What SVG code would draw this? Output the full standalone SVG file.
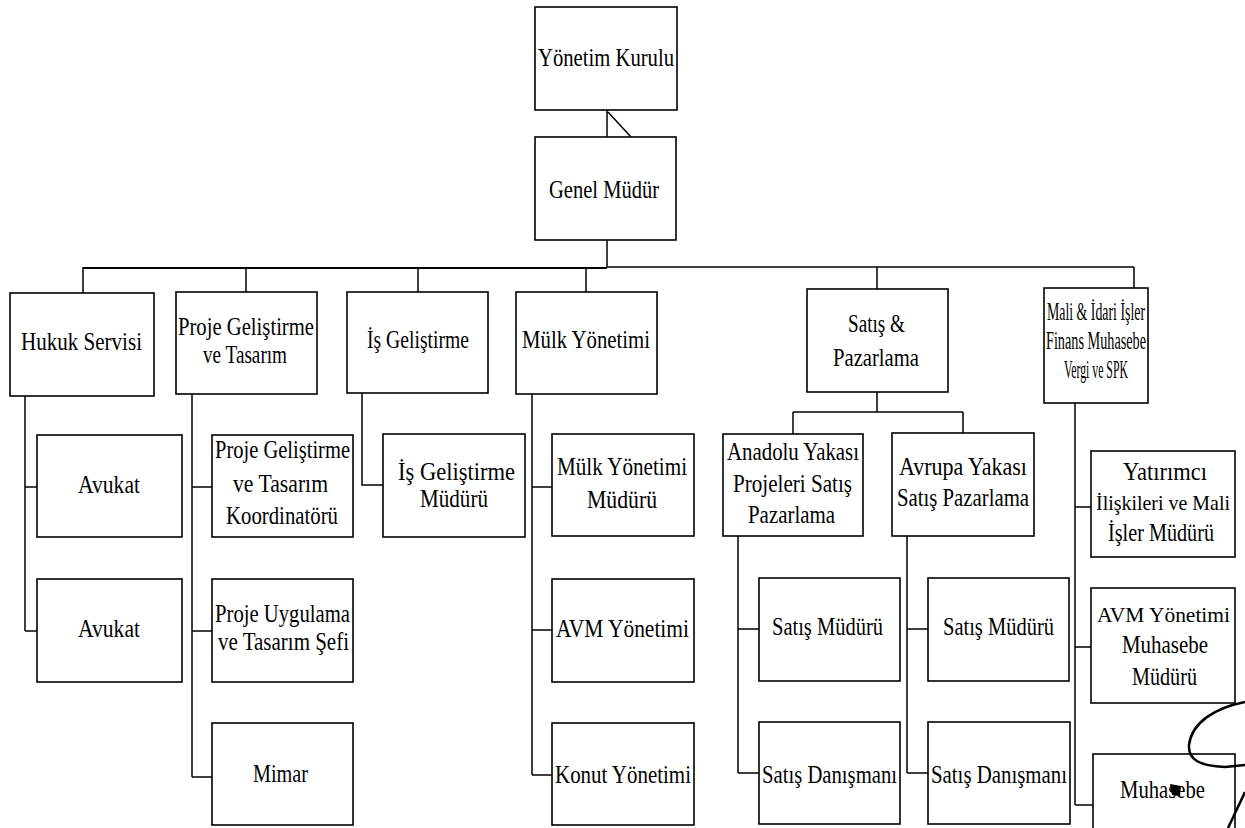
<svg xmlns="http://www.w3.org/2000/svg" width="1245" height="828" viewBox="0 0 1245 828">
<style>
.box{fill:#fff;stroke:#000;stroke-width:1.6}
.t{font-family:"Liberation Serif","Times New Roman",serif;font-size:25px;fill:#000}
.s{font-size:21px}
.c{stroke:#000;stroke-width:1.5;fill:none}
.bus{stroke:#000;stroke-width:2.2;fill:none}
</style>
<rect width="1245" height="828" fill="#fff"/>
<g id="connectors">
<path class="c" d="M607,110V137 M608,112L631,137 M607,240V267"/>
<path class="bus" d="M83,268H607"/>
<path class="c" d="M607,267H1134"/>
<path class="c" d="M83,267V293 M246,267V292 M418,267V292 M586,267V292 M877,267V289 M1134,267V288"/>
<path class="c" d="M25,396V631 M25,487H37 M25,631H37"/>
<path class="c" d="M192,394V777 M192,487H212 M192,631H212 M192,777H212"/>
<path class="c" d="M362,393V485H383"/>
<path class="c" d="M532,394V775 M532,487H552 M532,630H552 M532,775H552"/>
<path class="c" d="M877,392V412 M793,412H963 M793,412V434 M963,412V433"/>
<path class="c" d="M738,536V773 M738,629H759 M738,773H759"/>
<path class="c" d="M907,536V773 M907,629H928 M907,773H928"/>
<path class="c" d="M1075,403V805 M1075,507H1091 M1075,647H1091 M1075,805H1093"/>
</g>
<g id="n-yonetim"><rect class="box" x="535" y="7" width="142" height="103"/><text class="t" x="538" y="66" textLength="136" lengthAdjust="spacingAndGlyphs">Yönetim Kurulu</text></g>
<g id="n-genel"><rect class="box" x="535" y="137" width="141" height="103"/><text class="t" x="549" y="198" textLength="110" lengthAdjust="spacingAndGlyphs">Genel Müdür</text></g>
<g id="n-hukuk"><rect class="box" x="10" y="293" width="144" height="103"/><text class="t" x="21" y="350" textLength="121" lengthAdjust="spacingAndGlyphs">Hukuk Servisi</text></g>
<g id="n-proje"><rect class="box" x="176" y="292" width="141" height="102"/><text class="t" x="178" y="335" textLength="136" lengthAdjust="spacingAndGlyphs">Proje Geliştirme</text><text class="t" x="203" y="363" textLength="84" lengthAdjust="spacingAndGlyphs">ve Tasarım</text></g>
<g id="n-is"><rect class="box" x="347" y="292" width="141" height="101"/><text class="t" x="367" y="348" textLength="102" lengthAdjust="spacingAndGlyphs">İş Geliştirme</text></g>
<g id="n-mulk"><rect class="box" x="516" y="292" width="141" height="102"/><text class="t" x="522" y="348" textLength="128" lengthAdjust="spacingAndGlyphs">Mülk Yönetimi</text></g>
<g id="n-satis"><rect class="box" x="807" y="289" width="141" height="103"/><text class="t" x="848" y="332" textLength="57" lengthAdjust="spacingAndGlyphs">Satış &amp;</text><text class="t" x="833" y="366" textLength="86" lengthAdjust="spacingAndGlyphs">Pazarlama</text></g>
<g id="n-mali"><rect class="box" x="1044" y="288" width="104" height="115"/><text class="t" x="1047" y="320" textLength="98" lengthAdjust="spacingAndGlyphs">Mali &amp; İdari İşler</text><text class="t" x="1046" y="349" textLength="100" lengthAdjust="spacingAndGlyphs">Finans Muhasebe</text><text class="t" x="1064" y="378" textLength="64" lengthAdjust="spacingAndGlyphs">Vergi ve SPK</text></g>
<g id="n-avukat1"><rect class="box" x="37" y="435" width="145" height="102"/><text class="t" x="78" y="493" textLength="62" lengthAdjust="spacingAndGlyphs">Avukat</text></g>
<g id="n-avukat2"><rect class="box" x="37" y="579" width="145" height="103"/><text class="t" x="78" y="637" textLength="62" lengthAdjust="spacingAndGlyphs">Avukat</text></g>
<g id="n-pgtk"><rect class="box" x="212" y="435" width="141" height="102"/><text class="t" x="215" y="458" textLength="135" lengthAdjust="spacingAndGlyphs">Proje Geliştirme</text><text class="t" x="233" y="492" textLength="95" lengthAdjust="spacingAndGlyphs">ve Tasarım</text><text class="t" x="226" y="524" textLength="112" lengthAdjust="spacingAndGlyphs">Koordinatörü</text></g>
<g id="n-putse"><rect class="box" x="212" y="579" width="141" height="103"/><text class="t" x="215" y="622" textLength="135" lengthAdjust="spacingAndGlyphs">Proje Uygulama</text><text class="t" x="218" y="650" textLength="131" lengthAdjust="spacingAndGlyphs">ve Tasarım Şefi</text></g>
<g id="n-mimar"><rect class="box" x="212" y="723" width="141" height="102"/><text class="t" x="253" y="782" textLength="55" lengthAdjust="spacingAndGlyphs">Mimar</text></g>
<g id="n-isgm"><rect class="box" x="383" y="434" width="142" height="103"/><text class="t" x="398" y="480" textLength="117" lengthAdjust="spacingAndGlyphs">İş Geliştirme</text><text class="t" x="420" y="507" textLength="68" lengthAdjust="spacingAndGlyphs">Müdürü</text></g>
<g id="n-mym"><rect class="box" x="552" y="434" width="142" height="102"/><text class="t" x="557" y="475" textLength="130" lengthAdjust="spacingAndGlyphs">Mülk Yönetimi</text><text class="t" x="587" y="508" textLength="70" lengthAdjust="spacingAndGlyphs">Müdürü</text></g>
<g id="n-avm"><rect class="box" x="552" y="579" width="142" height="103"/><text class="t" x="556" y="637" textLength="133" lengthAdjust="spacingAndGlyphs">AVM Yönetimi</text></g>
<g id="n-konut"><rect class="box" x="552" y="723" width="142" height="102"/><text class="t" x="555" y="783" textLength="136" lengthAdjust="spacingAndGlyphs">Konut Yönetimi</text></g>
<g id="n-anadolu"><rect class="box" x="723" y="434" width="140" height="102"/><text class="t" x="727" y="460" textLength="132" lengthAdjust="spacingAndGlyphs">Anadolu Yakası</text><text class="t" x="733" y="492" textLength="119" lengthAdjust="spacingAndGlyphs">Projeleri Satış</text><text class="t" x="748" y="523" textLength="87" lengthAdjust="spacingAndGlyphs">Pazarlama</text></g>
<g id="n-avrupa"><rect class="box" x="892" y="433" width="142" height="103"/><text class="t" x="899" y="475" textLength="128" lengthAdjust="spacingAndGlyphs">Avrupa Yakası</text><text class="t" x="897" y="506" textLength="132" lengthAdjust="spacingAndGlyphs">Satış Pazarlama</text></g>
<g id="n-asm"><rect class="box" x="759" y="578" width="141" height="103"/><text class="t" x="772" y="635" textLength="111" lengthAdjust="spacingAndGlyphs">Satış Müdürü</text></g>
<g id="n-asd"><rect class="box" x="759" y="722" width="141" height="102"/><text class="t" x="762" y="783" textLength="135" lengthAdjust="spacingAndGlyphs">Satış Danışmanı</text></g>
<g id="n-esm"><rect class="box" x="928" y="578" width="141" height="103"/><text class="t" x="943" y="635" textLength="111" lengthAdjust="spacingAndGlyphs">Satış Müdürü</text></g>
<g id="n-esd"><rect class="box" x="928" y="722" width="142" height="102"/><text class="t" x="931" y="783" textLength="136" lengthAdjust="spacingAndGlyphs">Satış Danışmanı</text></g>
<g id="n-yatirimci"><rect class="box" x="1091" y="451" width="144" height="106"/><text class="t" x="1123" y="480" textLength="84" lengthAdjust="spacingAndGlyphs">Yatırımcı</text><text class="t s" x="1096" y="510" textLength="134" lengthAdjust="spacingAndGlyphs">İlişkileri ve Mali</text><text class="t" x="1108" y="541" textLength="106" lengthAdjust="spacingAndGlyphs">İşler Müdürü</text></g>
<g id="n-avmmuh"><rect class="box" x="1091" y="588" width="144" height="115"/><text class="t s" x="1097" y="622" textLength="133" lengthAdjust="spacingAndGlyphs">AVM Yönetimi</text><text class="t" x="1122" y="653" textLength="86" lengthAdjust="spacingAndGlyphs">Muhasebe</text><text class="t" x="1132" y="685" textLength="65" lengthAdjust="spacingAndGlyphs">Müdürü</text></g>
<g id="n-muhasebe"><rect class="box" x="1093" y="754" width="142" height="90"/><text class="t" x="1120" y="798" textLength="85" lengthAdjust="spacingAndGlyphs">Muhasebe</text><path d="M1170,784 L1181,786 L1180,796 L1172,795 Z" fill="#000"/></g>
<g id="signature" fill="none" stroke="#000" stroke-width="2.5">
<path d="M1245,702 C1215,708 1192,722 1189,745 C1188,760 1200,766 1225,767 L1245,765"/>
<path d="M1245,792 L1228,828"/>
</g>
</svg>
